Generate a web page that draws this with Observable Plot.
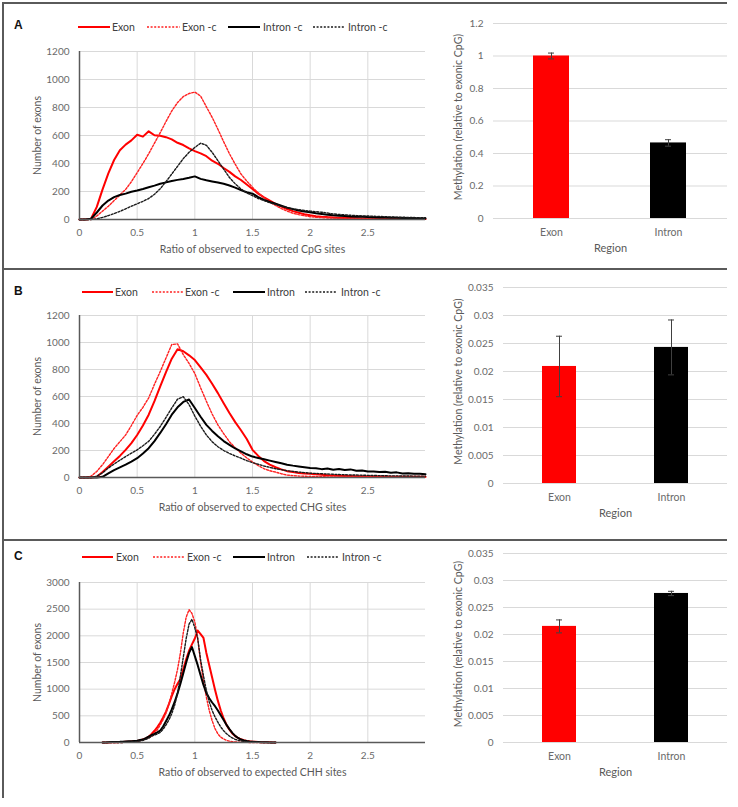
<!DOCTYPE html>
<html><head><meta charset="utf-8">
<script src="https://cdn.jsdelivr.net/npm/d3@7"></script>
<script src="https://cdn.jsdelivr.net/npm/@observablehq/plot@0.6"></script>
<style>
body{margin:0;background:#fff;font-family:Lato,"Open Sans",sans-serif}
#fig{position:relative;width:738px;height:807px;overflow:hidden;background:#fff}
.ln{position:absolute;background:#5a5a5a;z-index:5}
.letter{position:absolute;font-family:"Liberation Sans",Arial,sans-serif;font-weight:bold;font-size:12px;color:#111}
</style></head><body><div id="fig"></div>
<script>
// ---------- data ----------
const ratioAB = [0,0.05,0.1,0.15,0.2,0.25,0.3,0.35,0.4,0.45,0.5,0.55,0.6,0.65,0.7,0.75,0.8,0.85,0.9,0.95,1,1.05,1.1,1.15,1.2,1.25,1.3,1.35,1.4,1.45,1.5,1.55,1.6,1.65,1.7,1.75,1.8,1.85,1.9,1.95,2,2.05,2.1,2.15,2.2,2.25,2.3,2.35,2.4,2.45,2.5,2.55,2.6,2.65,2.7,2.75,2.8,2.85,2.9,2.95,3];
const cpgExon    = [0,0,5,90,215,330,425,495,535,565,605,592,630,602,598,588,572,548,532,508,488,472,452,420,398,368,340,308,282,250,218,185,158,135,112,92,75,60,48,38,30,24,20,17,15,13,11,10,9,8,8,7,7,6,6,5,5,5,4,4,4];
const cpgExonC   = [0,0,0,25,60,95,135,175,215,270,335,400,470,545,620,700,775,835,878,900,910,882,805,730,645,555,470,395,325,275,230,190,155,125,100,78,60,45,35,27,20,16,13,11,10,9,8,7,6,6,5,5,4,4,4,3,3,3,3,3,3];
const cpgIntron  = [0,0,5,50,100,135,160,175,185,198,207,218,230,242,255,265,275,283,290,298,308,290,280,272,264,255,243,228,210,195,185,160,140,125,112,98,85,74,65,57,52,45,40,34,30,27,25,22,20,19,17,16,15,14,13,12,11,10,9,8,8];
const cpgIntronC = [0,0,0,5,15,28,42,58,76,95,112,130,150,180,220,270,325,380,435,480,515,545,530,480,420,360,300,255,218,190,170,150,135,120,108,95,85,77,70,64,60,56,52,46,40,36,33,30,28,26,25,23,22,20,18,17,16,15,14,13,12];
const chgExon    = [0,0,0,5,40,80,120,160,205,255,315,385,465,565,675,780,880,950,935,905,870,815,760,695,625,550,478,410,350,285,205,160,122,96,76,60,47,40,34,30,27,24,20,17,15,13,12,11,10,9,8,8,7,7,6,6,6,5,5,5,5];
const chgExonC   = [0,0,10,45,95,155,215,265,315,385,460,520,590,690,785,885,985,990,910,845,770,665,565,470,390,325,265,220,180,145,115,88,65,50,40,28,18,14,11,9,8,7,6,5,5,4,4,4,3,3,3,3,3,2,2,2,2,2,2,2,2];
const chgIntron  = [0,0,0,0,5,30,55,75,95,118,143,178,217,270,330,395,465,520,560,578,515,450,390,345,305,270,242,215,193,172,155,145,135,125,115,105,95,88,82,76,70,68,62,66,58,63,55,60,50,52,44,45,40,42,35,38,30,32,27,28,24];
const chgIntronC = [0,0,0,10,35,70,100,128,155,180,205,235,268,320,378,445,515,580,598,540,455,380,315,265,228,200,178,160,143,125,110,98,85,75,65,58,50,45,40,36,32,30,28,26,24,22,20,19,18,17,16,15,14,13,12,12,11,11,10,10,10];
const ratioC = [0.2,0.225,0.25,0.275,0.3,0.325,0.35,0.375,0.4,0.425,0.45,0.475,0.5,0.525,0.55,0.575,0.6,0.625,0.65,0.675,0.7,0.725,0.75,0.775,0.8,0.825,0.85,0.875,0.9,0.925,0.95,0.975,1,1.025,1.05,1.075,1.1,1.125,1.15,1.175,1.2,1.225,1.25,1.275,1.3,1.325,1.35,1.375,1.4,1.425,1.45,1.475,1.5,1.525,1.55,1.575,1.6,1.625,1.65,1.675,1.7];
const chhExon    = [0,0,2,3,5,6,8,10,12,15,20,25,30,40,55,75,110,160,220,290,370,470,580,720,870,1000,1100,1190,1380,1560,1720,1840,1950,2100,2030,1960,1680,1450,1220,990,780,600,450,330,240,170,120,85,60,42,30,22,16,12,9,7,5,4,3,2,1];
const chhExonC   = [0,0,0,0,0,0,0,0,3,5,10,18,30,45,60,75,90,115,170,240,330,430,550,720,920,1130,1370,1680,2060,2350,2490,2420,2260,1950,1500,1150,850,600,410,260,160,100,65,40,25,15,10,6,4,3,2,1,1,1,0,0,0,0,0,0,0];
const chhIntron  = [0,2,5,8,10,11,12,15,18,22,25,30,35,45,55,80,110,140,160,190,225,300,400,500,620,760,920,1100,1300,1500,1680,1790,1620,1450,1260,1080,930,830,750,680,600,510,420,330,250,180,125,85,55,38,28,20,15,11,8,6,4,3,2,1,0];
const chhIntronC = [0,0,0,0,0,0,0,0,3,5,8,12,20,28,40,60,80,120,140,160,190,250,330,420,540,700,920,1250,1600,1950,2220,2310,2150,1950,1550,1250,975,760,600,480,380,290,220,165,120,85,60,42,30,20,14,9,6,4,3,2,1,1,0,0,0];

const legendA = ["Exon","Exon -c","Intron -c","Intron -c"];
const legendBC = ["Exon","Exon -c","Intron","Intron -c"];
const xTicksLine = [0,0.5,1,1.5,2,2.5];
const yTicksCount = [0,200,400,600,800,1000,1200];
const yTicksCHH = [0,500,1000,1500,2000,2500,3000];

const regions = ["Exon","Intron"];
const barColors = ["#ff0000","#000000"];
const cpgMeth = [1.0, 0.465];   const cpgErr = [0.018, 0.02];
const chgMeth = [0.0209, 0.0243]; const chgErr = [0.0054, 0.0049];
const chhMeth = [0.0215, 0.0276]; const chhErr = [0.0012, 0.0004];
const barTicksA = [0,0.2,0.4,0.6,0.8,1,1.2];
const barTicksBC = [0,0.005,0.01,0.015,0.02,0.025,0.03,0.035];

// ---------- styles ----------
const seriesStyle = [
  {stroke:"#ff0000", width:2, dash:null},
  {stroke:"#ff2020", width:1.4, dash:"2,1.6"},
  {stroke:"#000000", width:2, dash:null},
  {stroke:"#1a1a1a", width:1.4, dash:"2,1.6"}
];
const fig = document.getElementById("fig");
function place(node, left, top) {
  node.style.position = "absolute"; node.style.left = left + "px"; node.style.top = top + "px";
  fig.appendChild(node);
}
const baseStyle = {fontFamily:"Lato, 'Open Sans', sans-serif", fontSize:"10px", color:"#6a6a6a", background:"transparent", overflow:"visible"};

function lineChart({xs, series, yDomain, yTicks, xTitle, top, height, mt, mb}) {
  const marks = [
    Plot.gridX(xTicksLine.slice(1), {stroke:"#d9d9d9", strokeOpacity:1}),
    Plot.gridY(yTicks.slice(1), {stroke:"#d9d9d9", strokeOpacity:1})
  ];
  series.forEach((vals, i) => {
    const st = seriesStyle[i];
    const data = xs.map((x, j) => ({x, y: vals[j]}));
    marks.push(Plot.line(data, {x:"x", y:"y", stroke:st.stroke, strokeWidth:st.width, strokeDasharray:st.dash}));
  });
  marks.push(
    Plot.ruleX([0], {stroke:"#595959", strokeWidth:1.5}),
    Plot.ruleY([0], {stroke:"#595959", strokeWidth:1.5}),
    Plot.axisX(xTicksLine, {tickSize:0, tickPadding:9, tickFormat:d => String(d), label:null}),
    Plot.axisY(yTicks, {tickSize:0, tickPadding:10, tickFormat:d => String(d), label:null}),
    Plot.text([xTitle], {text:d => d, frameAnchor:"bottom", dy:33, fontSize:10.5, fill:"#595959"}),
    Plot.text(["Number of exons"], {text:d => d, frameAnchor:"left", textAnchor:"middle", rotate:-90, dx:-42, fontSize:10.5, fill:"#595959"})
  );
  const p = Plot.plot({
    width:430, height, marginLeft:79, marginRight:5, marginTop:mt, marginBottom:mb,
    style: baseStyle,
    x:{domain:[0,3]}, y:{domain:yDomain},
    marks
  });
  place(p, 0, top);
}

function legend(top, labels, pos) {
  const svg = d3.create("svg").attr("width", 430).attr("height", 14);
  labels.forEach((lab, i) => {
    const st = seriesStyle[i];
    const [x1, x2, tx] = pos[i];
    svg.append("line").attr("x1", x1).attr("x2", x2).attr("y1", 7).attr("y2", 7)
      .attr("stroke", st.stroke).attr("stroke-width", st.width).attr("stroke-dasharray", st.dash);
    svg.append("text").attr("x", tx).attr("y", 7).attr("dy", "0.35em").text(lab)
      .attr("font-family", "Lato, sans-serif").attr("font-size", "10.5px").attr("fill", "#404040");
  });
  place(svg.node(), 0, top);
}

function barChart({values, errs, yDomain, yTicks, top, height, ml, mt, mb, ytDx, pI, capInset}) {
  const data = regions.map((r, i) => ({region:r, value:values[i], lo:values[i]-errs[i], hi:values[i]+errs[i], color:barColors[i]}));
  const p = Plot.plot({
    width:308, height, marginLeft:ml, marginRight:11, marginTop:mt, marginBottom:mb,
    style: baseStyle,
    x:{domain:regions, paddingInner:pI, paddingOuter:pI/2},
    y:{domain:yDomain},
    color:{type:"identity"},
    marks:[
      Plot.gridY(yTicks, {stroke:"#d9d9d9", strokeOpacity:1}),
      Plot.barY(data, {x:"region", y:"value", fill:"color"}),
      Plot.ruleX(data, {x:"region", y1:"lo", y2:"hi", stroke:"#404040", strokeWidth:1}),
      Plot.tickY(data, {x:"region", y:"lo", stroke:"#404040", insetLeft:capInset, insetRight:capInset}),
      Plot.tickY(data, {x:"region", y:"hi", stroke:"#404040", insetLeft:capInset, insetRight:capInset}),
      Plot.axisY(yTicks, {tickSize:0, tickPadding:10, tickFormat:d => String(d), label:null}),
      Plot.axisX(regions, {tickSize:0, tickPadding:10, label:null, fontSize:10.5}),
      Plot.text(["Region"], {text:d => d, frameAnchor:"bottom", dy:33, fontSize:11, fill:"#595959"}),
      Plot.text(["Methylation (relative to exonic CpG)"], {text:d => d, frameAnchor:"left", textAnchor:"middle", rotate:-90, dx:ytDx, dy:-4, fontSize:10.5, fill:"#595959"})
    ]
  });
  place(p, 430, top);
}

// ---------- panels ----------
lineChart({xs:ratioAB, series:[cpgExon,cpgExonC,cpgIntron,cpgIntronC], yDomain:[0,1200], yTicks:yTicksCount,
  xTitle:"Ratio of observed to expected CpG sites", top:40, height:225, mt:11, mb:46});
lineChart({xs:ratioAB, series:[chgExon,chgExonC,chgIntron,chgIntronC], yDomain:[0,1200], yTicks:yTicksCount,
  xTitle:"Ratio of observed to expected CHG sites", top:305, height:225, mt:10, mb:53});
lineChart({xs:ratioC, series:[chhExon,chhExonC,chhIntron,chhIntronC], yDomain:[0,3000], yTicks:yTicksCHH,
  xTitle:"Ratio of observed to expected CHH sites", top:572, height:225, mt:10, mb:55});

legend(20, legendA, [[78,110,112],[147,180,182],[228,260,263],[313,345,348]]);
legend(285, legendBC, [[82,113,115],[152,183,185],[233,265,267],[305,337,341]]);
legend(550, legendBC, [[82,113,116],[153,185,187],[233,265,267],[307,338,342]]);

barChart({values:cpgMeth, errs:cpgErr, yDomain:[0,1.2], yTicks:barTicksA, top:10, height:250, ml:63, mt:13, mb:42, ytDx:-35, pI:0.69, capInset:15});
barChart({values:chgMeth, errs:chgErr, yDomain:[0,0.035], yTicks:barTicksBC, top:275, height:250, ml:73, mt:12, mb:42, ytDx:-45, pI:0.70, capInset:14});
barChart({values:chhMeth, errs:chhErr, yDomain:[0,0.035], yTicks:barTicksBC, top:540, height:260, ml:73, mt:13, mb:58, ytDx:-45, pI:0.70, capInset:14});

// ---------- frame lines and letters ----------
function ln(l, t, w, h) { const d = document.createElement("div"); d.className = "ln";
  d.style.left = l + "px"; d.style.top = t + "px"; d.style.width = w + "px"; d.style.height = h + "px"; fig.appendChild(d); }
ln(2, 2, 725, 2); ln(2, 2, 2, 796); ln(2, 268, 725, 2); ln(2, 539, 725, 2);
[["A",18],["B",284],["C",549]].forEach(([t, y]) => { const d = document.createElement("div");
  d.className = "letter"; d.textContent = t; d.style.left = "14px"; d.style.top = y + "px"; fig.appendChild(d); });
</script></body></html>
